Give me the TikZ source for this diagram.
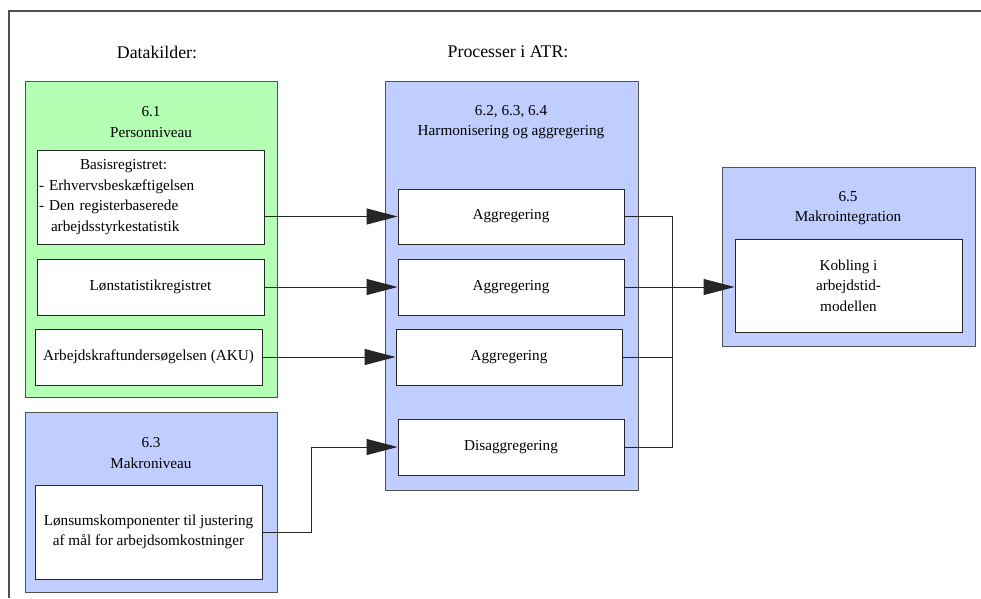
\documentclass[tikz,border=0pt]{standalone}
\usepackage{fontspec}
\setmainfont{Liberation Serif}
\usetikzlibrary{arrows.meta}
\definecolor{gfill}{RGB}{179,255,179}
\definecolor{bfill}{RGB}{191,206,255}
\definecolor{bord}{RGB}{80,80,80}
\begin{document}
\begin{tikzpicture}[x=1pt,y=-1pt,
  every node/.style={font=\fontsize{15.2}{20.5}\selectfont},
  outer/.style={draw=bord,line width=1.3pt,inner sep=0pt,anchor=north west},
  inbox/.style={draw=black!85,fill=white,line width=0.9pt,inner sep=2pt,align=center},
  title/.style={align=center,inner sep=0pt},
  head/.style={font=\fontsize{17.8}{21}\selectfont,inner sep=0pt},
  conn/.style={draw=black!85,line width=0.9pt},
  arr/.style={conn,-{Triangle[length=31pt,width=16pt]}}]
\useasboundingbox (0,0) rectangle (981,598);
\draw[bord,line width=1.2pt] (981,11) -- (9,11) -- (9,598);
% headers
\node[head] (hd1) at (157,52) {Datakilder:};
\node[head] (hd2) at (508,52) {Processer i ATR:};
% outer boxes
\node[outer,fill=gfill,minimum width=252,minimum height=316] (gbox) at (25,81) {};
\node[outer,fill=bfill,minimum width=252,minimum height=180] (mbox) at (25,412) {};
\node[outer,fill=bfill,minimum width=253,minimum height=409] (pbox) at (385,81) {};
\node[outer,fill=bfill,minimum width=253,minimum height=179] (ibox) at (722,167) {};
% titles
\node[title] (t1) at (151,122) {6.1\\Personniveau};
\node[title] (t2) at (151,453) {6.3\\Makroniveau};
\node[title] (t3) at (511,122) {6.2, 6.3, 6.4\\Harmonisering og aggregering};
\node[title] (t4) at (848,208) {6.5\\Makrointegration};
% inner boxes
\node[inbox,minimum width=227,minimum height=94,text width=223,align=left] (basis) at (150.5,197)
  {\hspace*{41pt}Basisregistret:\\- Erhvervsbeskæftigelsen\\- Den registerbaserede\\\hspace*{12pt}arbejdsstyrkestatistik};
\node[inbox,minimum width=227,minimum height=56] (lon) at (150.5,287) {Lønstatistikregistret};
\node[inbox,minimum width=227,minimum height=56] (aku) at (148.5,357) {Arbejdskraftundersøgelsen (AKU)};
\node[inbox,minimum width=227,minimum height=94] (mk) at (148.5,532) {Lønsumskomponenter til justering\\af mål for arbejdsomkostninger};
\node[inbox,minimum width=226,minimum height=55] (agg1) at (511,216.5) {Aggregering};
\node[inbox,minimum width=226,minimum height=56] (agg2) at (511,287) {Aggregering};
\node[inbox,minimum width=226,minimum height=56] (agg3) at (509,357) {Aggregering};
\node[inbox,minimum width=226,minimum height=56] (dis) at (511,447) {Disaggregering};
\node[inbox,minimum width=227,minimum height=93] (kobl) at (848.5,285.5) {Kobling i\\arbejdstid-\\modellen};
% connectors
\coordinate (bx) at (672,0);
\coordinate (mx) at (311,0);
\draw[arr] (basis.east |- agg1.west) -- (agg1.west);
\draw[arr] (lon.east) -- (agg2.west);
\draw[arr] (aku.east) -- (agg3.west);
\draw[arr] (mk.east) -- (mk.east -| mx) -- (dis.west -| mx) -- (dis.west);
\draw[conn] (agg1.east) -- (agg1.east -| bx) -- (dis.east -| bx) -- (dis.east);
\draw[conn] (agg3.east) -- (agg3.east -| bx);
\draw[arr] (agg2.east) -- (agg2.east -| kobl.west);
\end{tikzpicture}
\end{document}
